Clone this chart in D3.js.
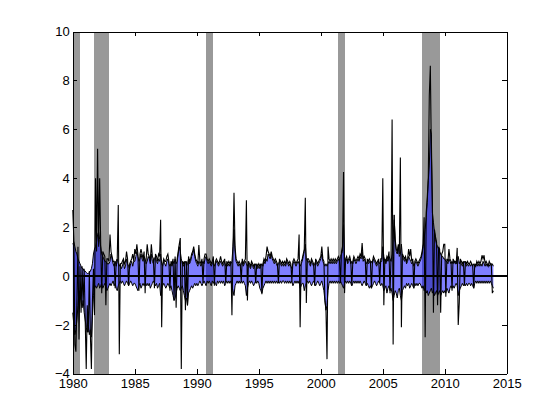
<!DOCTYPE html>
<html>
<head>
<meta charset="utf-8">
<script src="https://cdn.jsdelivr.net/npm/d3@7"></script>
<style>
body { margin: 0; background: #fff; }
svg text { font-family: "Liberation Sans", Arial, sans-serif; font-size: 13px; fill: #000; }
</style>
</head>
<body>
<div id="chart"></div>
<script>
// monthly values, Jan 1980 .. Dec 2013
var startYear = 1980;

// upper edge of the blue band
var upper = [
  1.3, 1.4, 1.2, 1.0, 0.9, 0.7, 0.6, 0.5, 0.4, 0.3, 0.3, 0.2,
  0.2, 0.15, 0.1, 0.1, 0.15, 0.2, 0.3, 0.5, 0.9, 1.1, 1.2, 1.4,
  1.7, 1.8, 1.5, 1.2, 0.9, 0.8, 0.7, 0.6, 0.6, 0.5, 0.5, 0.5,
  0.6, 0.9, 0.7, 0.5, 0.4, 0.6, 0.4, 0.7, 0.5, 0.4, 0.5, 0.3,
  0.4, 0.6, 0.3, 0.4, 0.7, 0.5, 0.4, 0.3, 0.5, 0.6, 0.4, 0.6,
  0.6, 0.8, 1.0, 0.8, 0.6, 0.7, 0.9, 0.7, 0.6, 0.8, 0.7, 0.5,
  0.6, 0.8, 0.7, 0.5, 0.9, 0.6, 0.5, 0.7, 0.8, 0.6, 0.5, 0.7,
  0.6, 0.9, 0.5, 0.4, 0.6, 0.5, 0.4, 0.6, 0.7, 0.5, 0.4, 0.5,
  0.4, 0.6, 0.5, 0.7, 0.5, 0.6, 0.9, 1.2, 1.0, 0.7, 0.5, 0.4,
  0.5, 0.6, 0.4, 0.5, 0.7, 0.5, 0.6, 0.8, 0.9, 1.1, 0.8, 0.6,
  0.5, 0.4, 0.6, 0.5, 0.4, 0.5, 0.6, 0.5, 0.7, 0.8, 0.6, 0.5,
  0.6, 0.5, 0.4, 0.5, 0.6, 0.4, 0.5, 0.6, 0.5, 0.4, 0.5, 0.6,
  0.5, 0.4, 0.5, 0.6, 0.4, 0.5, 0.4, 0.5, 0.4, 0.5, 0.6, 1.2,
  1.9, 1.0, 0.6, 0.5, 0.4, 0.5, 0.4, 0.5, 0.6, 0.4, 0.5, 0.6,
  0.5, 0.4, 0.5, 0.4, 0.3, 0.5, 0.4, 0.3, 0.4, 0.5, 0.4, 0.3,
  0.4, 0.3, 0.4, 0.5, 0.4, 0.6, 0.5, 0.7, 0.6, 0.9, 0.8, 0.7,
  0.9, 0.7, 0.6, 0.5, 0.6, 0.5, 0.4, 0.5, 0.6, 0.5, 0.4, 0.5,
  0.4, 0.5, 0.4, 0.6, 0.5, 0.4, 0.5, 0.4, 0.3, 0.5, 0.6, 0.5,
  0.4, 0.5, 0.6, 0.5, 0.4, 0.5, 0.6, 0.8, 1.0, 1.3, 0.7, 0.6,
  0.6, 0.5, 0.4, 0.6, 0.5, 0.4, 0.5, 0.6, 0.5, 0.4, 0.5, 0.6,
  0.7, 0.9, 0.6, 0.5, 0.4, 0.5, 0.4, 0.5, 0.6, 0.5, 0.6, 0.5,
  0.6, 0.5, 0.6, 0.5, 0.6, 0.7, 0.6, 0.8, 0.9, 1.0, 2.1, 0.7,
  0.6, 0.7, 0.5, 0.6, 0.7, 0.5, 0.6, 0.5, 0.7, 0.6, 0.5, 0.6,
  0.7, 0.6, 0.8, 0.7, 1.0, 0.6, 0.7, 0.6, 0.5, 0.6, 0.5, 0.6,
  0.5, 0.6, 0.5, 0.7, 0.6, 0.5, 0.4, 0.5, 0.6, 0.5, 0.6, 0.6,
  1.2, 0.8, 0.6, 0.5, 0.7, 0.6, 0.8, 0.7, 0.6, 0.9, 1.5, 2.5,
  1.4, 1.0, 0.9, 1.2, 0.8, 0.9, 1.3, 0.8, 0.7, 0.6, 0.7, 0.5,
  0.6, 0.8, 0.7, 0.6, 0.5, 0.6, 0.4, 0.5, 0.6, 0.5, 0.4, 0.5,
  0.6, 0.7, 0.9, 1.2, 1.5, 1.9, 2.4, 3.0, 3.9, 4.5, 6.0, 5.8,
  2.6, 2.2, 1.8, 1.5, 1.3, 1.2, 1.1, 1.0, 0.9, 0.8, 0.8, 0.7,
  0.7, 0.6, 0.6, 0.5, 0.7, 0.6, 0.5, 0.6, 0.5, 0.6, 0.5, 0.5,
  0.6, 0.8, 0.5, 0.6, 0.5, 0.4, 0.5, 0.6, 0.5, 0.4, 0.5, 0.4,
  0.5, 0.4, 0.5, 0.4, 0.5, 0.4, 0.4, 0.5, 0.4, 0.5, 0.4, 0.5,
  0.4, 0.6, 0.5, 0.4, 0.5, 0.4, 0.5, 0.4, 0.5, 0.4, 0.5, 0.4
];

// lower edge of the blue band
var lower = [
  -1.5, -2.0, -2.4, -2.2, -1.8, -1.2, -0.6, -0.8, -1.0, -1.3, -1.0, -1.5,
  -1.8, -2.1, -2.3, -2.0, -2.4, -2.2, -2.5, -1.6, -0.8, -0.5, -0.4, -0.5,
  -0.4, -0.3, -0.5, -0.4, -0.3, -0.5, -0.4, -0.3, -0.4, -0.6, -0.5, -0.4,
  -0.3, -0.4, -0.3, -0.2, -0.4, -0.3, -0.5, -0.6, -0.4, -0.3, -0.2, -0.3,
  -0.2, -0.3, -0.4, -0.3, -0.2, -0.3, -0.4, -0.3, -0.2, -0.3, -0.4, -0.3,
  -0.3, -0.4, -0.5, -0.6, -0.4, -0.3, -0.5, -0.4, -0.3, -0.4, -0.3, -0.4,
  -0.3, -0.4, -0.3, -0.5, -0.4, -0.3, -0.2, -0.3, -0.4, -0.3, -0.5, -0.4,
  -0.3, -0.8, -0.5, -0.4, -0.3, -0.4, -0.5, -0.4, -0.3, -0.4, -0.5, -0.4,
  -0.6, -0.8, -1.0, -0.9, -0.7, -0.5, -0.4, -0.5, -0.6, -0.5, -0.4, -0.6,
  -0.8, -1.0, -0.9, -1.2, -0.7, -0.6, -0.5, -0.4, -0.5, -0.4, -0.3, -0.4,
  -0.3, -0.4, -0.3, -0.2, -0.3, -0.4, -0.3, -0.2, -0.3, -0.4, -0.2, -0.3,
  -0.2, -0.3, -0.4, -0.2, -0.3, -0.2, -0.3, -0.4, -0.2, -0.3, -0.2, -0.3,
  -0.2, -0.3, -0.2, -0.4, -0.3, -0.2, -0.3, -0.2, -0.3, -0.2, -0.4, -0.6,
  -0.8, -0.4, -0.3, -0.2, -0.3, -0.2, -0.3, -0.2, -0.3, -0.2, -0.3, -0.4,
  -0.8, -0.5, -0.3, -0.2, -0.3, -0.2, -0.3, -0.4, -0.3, -0.2, -0.3, -0.2,
  -0.3, -0.5, -0.6, -0.7, -0.5, -0.4, -0.3, -0.2, -0.3, -0.2, -0.3, -0.2,
  -0.3, -0.2, -0.3, -0.2, -0.3, -0.2, -0.3, -0.2, -0.3, -0.2, -0.3, -0.2,
  -0.2, -0.3, -0.2, -0.3, -0.2, -0.3, -0.2, -0.3, -0.2, -0.4, -0.3, -0.2,
  -0.3, -0.2, -0.3, -0.2, -0.5, -0.4, -0.3, -0.3, -0.6, -0.4, -0.3, -0.2,
  -0.3, -0.2, -0.3, -0.4, -0.3, -0.2, -0.3, -0.4, -0.3, -0.2, -0.3, -0.4,
  -0.3, -0.2, -0.4, -0.6, -1.0, -1.4, -1.2, -0.6, -0.3, -0.2, -0.3, -0.2,
  -0.3, -0.2, -0.3, -0.2, -0.3, -0.2, -0.3, -0.2, -0.3, -0.4, -0.5, -0.3,
  -0.2, -0.3, -0.2, -0.3, -0.2, -0.3, -0.4, -0.3, -0.2, -0.3, -0.2, -0.3,
  -0.2, -0.3, -0.2, -0.3, -0.4, -0.3, -0.2, -0.3, -0.4, -0.3, -0.4, -0.5,
  -0.4, -0.5, -0.4, -0.3, -0.2, -0.3, -0.4, -0.3, -0.2, -0.3, -0.4, -0.3,
  -0.4, -0.6, -0.5, -0.4, -0.7, -0.5, -0.4, -0.6, -0.5, -0.7, -1.0, -0.8,
  -0.6, -0.7, -0.9, -0.6, -0.5, -0.8, -1.0, -0.6, -0.5, -0.4, -0.5, -0.3,
  -0.4, -0.3, -0.5, -0.4, -0.3, -0.4, -0.5, -0.3, -0.4, -0.3, -0.4, -0.3,
  -0.3, -0.4, -0.5, -0.4, -0.6, -0.5, -0.7, -0.6, -0.8, -0.7, -0.6, -0.5,
  -0.7, -0.6, -0.8, -0.7, -0.6, -0.8, -0.7, -0.6, -0.8, -0.7, -0.6, -0.7,
  -0.6, -0.7, -0.5, -0.6, -0.7, -0.5, -0.4, -0.5, -0.4, -0.5, -0.4, -0.3,
  -0.4, -0.8, -0.6, -0.5, -0.4, -0.3, -0.4, -0.3, -0.4, -0.3, -0.4, -0.3,
  -0.3, -0.4, -0.3, -0.4, -0.5, -0.3, -0.2, -0.3, -0.2, -0.3, -0.2, -0.3,
  -0.2, -0.3, -0.2, -0.3, -0.2, -0.3, -0.2, -0.3, -0.2, -0.3, -0.4, -0.5
];

// black line
var series = [
  2.7, 1.5, -2.8, -3.1, -1.0, 1.2, -2.6, 0.4, -1.5, 0.4, -1.2, 0.3,
  -1.8, -3.8, -1.2, -2.3, 0.2, -2.4, -3.8, -1.0, 0.3, -1.6, 4.0, 1.0,
  5.2, 1.2, 4.0, 1.3, -0.7, 1.0, 0.9, 0.8, -1.2, 0.7, 0.7, 0.6,
  1.7, 1.0, 0.8, 0.6, 0.6, -0.5, 0.6, 0.7, 2.9, -3.2, 0.5, 0.5,
  0.6, 0.7, 0.5, 0.6, 1.0, 0.7, -0.4, 0.5, 0.6, 0.7, 0.9, 0.6,
  1.1, 0.9, 1.3, 0.9, -0.6, 0.9, 1.1, 0.9, 0.7, 1.0, -0.7, 0.7,
  1.3, 0.9, 0.8, 0.6, 1.3, 0.8, 0.7, -0.5, 0.9, 0.8, 0.6, 0.9,
  0.8, 2.3, -2.1, 0.5, 0.7, 0.6, 0.6, 0.8, 0.9, 0.6, -0.6, 0.6,
  0.5, 0.7, -1.0, 0.8, -1.3, 0.7, 1.0, 1.3, 1.55, -3.8, 0.6, 0.5,
  0.6, -1.4, 0.6, -1.2, 0.8, 0.6, 0.7, 0.9, 1.0, 1.2, 0.9, 0.7,
  0.6, 0.5, 1.27, 0.6, 0.5, 0.7, -0.3, 0.7, 0.9, 0.9, 0.7, 0.6,
  0.7, 0.6, 0.5, 0.6, 0.8, -0.4, 0.6, 0.7, 0.6, 0.5, 0.6, 0.8,
  0.6, 0.5, 0.6, 0.7, -0.3, 0.6, 0.5, 0.6, 0.5, 0.6, -1.6, 1.0,
  3.4, 1.2, 0.7, 0.6, 0.5, 0.6, 0.5, -0.2, 0.7, 0.5, 0.6, 0.7,
  3.1, -1.0, 0.6, 0.5, 0.4, 0.6, 0.5, 0.4, 0.5, -0.3, 0.5, 0.4,
  0.5, 0.4, 0.5, -0.75, 0.5, 0.7, 0.6, 0.8, 1.2, 1.0, 0.9, 0.8,
  1.0, 0.8, 0.7, 0.6, 0.7, 0.6, 0.5, -0.3, 0.7, 0.6, 0.5, 0.6,
  0.5, 0.6, 0.5, 0.7, 0.6, 0.5, 0.6, 0.5, -0.2, 0.6, 0.7, 0.6,
  0.5, 0.6, 0.7, 1.7, -2.1, 0.6, 0.7, 0.9, 1.1, 3.2, -1.1, 0.7,
  0.7, 0.6, 0.5, 0.7, 0.6, 0.5, -0.4, 0.7, 0.6, 0.5, 0.6, 0.7,
  0.8, 1.2, 0.7, 0.6, -1.0, -1.4, -3.4, 1.2, 0.7, 0.6, 0.7, 0.6,
  0.7, 0.6, 0.7, 0.6, 0.7, 0.8, 0.7, -0.3, 1.0, 1.2, 4.25, -0.7,
  0.7, 0.8, 0.6, 0.7, 0.8, 0.6, -0.4, 0.6, 0.8, 0.7, 0.6, 0.7,
  0.8, 0.7, 0.9, 0.8, 1.35, 0.7, 0.8, 0.7, -0.4, 0.7, 0.6, 0.7,
  0.6, -0.5, 0.6, 0.8, 0.7, 0.6, 0.5, 0.6, 0.7, -0.3, 0.7, 0.7,
  4.0, -1.2, 0.7, 0.6, 0.8, 0.7, 1.0, -0.7, 0.8, 6.4, -2.8, 2.3,
  1.5, 1.1, 1.0, 1.3, 0.9, 4.85, -2.1, 0.9, 0.8, 0.7, 0.8, 0.6,
  0.7, 1.1, 0.8, 1.1, 0.6, 0.7, -0.5, 0.6, 0.7, 0.6, 0.5, 0.6,
  0.7, 0.8, 1.0, 1.3, 2.4, -2.5, 2.6, 3.2, 4.0, 7.4, 8.6, 5.0,
  3.0, -1.5, 1.9, 1.6, 1.4, -1.2, 1.2, 1.1, -1.5, 0.9, 1.0, 1.3,
  1.3, -0.85, 0.7, 0.6, 1.1, 0.7, 0.6, -0.6, 0.7, 0.6, 0.6, 0.5,
  1.15, -2.0, -1.1, 0.7, 0.6, 0.5, 0.6, -0.4, 0.6, 0.5, 0.6, 0.5,
  0.5, 0.6, 0.5, 0.4, -0.5, 0.5, 0.4, 0.6, 0.5, 0.6, 0.5, 0.6,
  0.85, 0.7, 0.85, 0.5, 0.6, 0.5, 0.4, 0.6, 0.5, 0.5, -0.7, -0.6
];

// shaded periods (start, end) in years
var bandStart = [1980.0, 1981.71, 1990.74, 2001.39, 2008.16];
var bandEnd   = [1980.58, 1982.9, 1991.31, 2001.95, 2009.6];

var xTicks = [1980, 1985, 1990, 1995, 2000, 2005, 2010, 2015];
var yTicks = [-4, -2, 0, 2, 4, 6, 8, 10];

var width = 560;
var height = 420;
var margin = { left: 72.8, top: 31.5, right: 53.2, bottom: 46.2 };
var w = width - margin.left - margin.right;
var h = height - margin.top - margin.bottom;

var data = series.map(function(d, i) {
  return { t: startYear + i / 12, s: d, up: upper[i], lo: lower[i] };
});

var x = d3.scaleLinear().domain([1980, 2015]).range([0, w]);
var y = d3.scaleLinear().domain([-4, 10]).range([h, 0]);

var svg = d3.select('#chart')
  .append('svg')
  .attr('width', width)
  .attr('height', height)
  .append('g')
  .attr('transform', 'translate(' + margin.left + ',' + margin.top + ')');

svg.append('rect')
  .attr('width', w).attr('height', h)
  .attr('fill', '#fff');

// grey bars
svg.selectAll('.band')
  .data(bandStart)
  .enter()
  .append('rect')
  .attr('x', function(d) { return x(d); })
  .attr('y', 0)
  .attr('width', function(d, i) { return x(bandEnd[i]) - x(d); })
  .attr('height', h)
  .attr('fill', '#999999')
  .attr('shape-rendering', 'crispEdges');

// blue band
var area = d3.area()
  .x(function(d) { return x(d.t); })
  .y0(function(d) { return y(d.lo); })
  .y1(function(d) { return y(d.up); });

svg.append('path')
  .datum(data)
  .attr('d', area)
  .attr('fill', '#0000ff')
  .attr('fill-opacity', 0.5);

var upLine = d3.line().x(function(d) { return x(d.t); }).y(function(d) { return y(d.up); });
var loLine = d3.line().x(function(d) { return x(d.t); }).y(function(d) { return y(d.lo); });
var sLine = d3.line().x(function(d) { return x(d.t); }).y(function(d) { return y(d.s); });

svg.append('path').datum(data).attr('d', upLine)
  .attr('fill', 'none').attr('stroke', '#000').attr('stroke-width', 1);
svg.append('path').datum(data).attr('d', loLine)
  .attr('fill', 'none').attr('stroke', '#000').attr('stroke-width', 1);

svg.append('path').datum(data).attr('d', sLine)
  .attr('fill', 'none').attr('stroke', '#000').attr('stroke-width', 1.1);

// zero line
svg.append('line')
  .attr('x1', 0).attr('x2', w)
  .attr('y1', y(0)).attr('y2', y(0))
  .attr('stroke', '#000').attr('stroke-width', 2)
  .attr('shape-rendering', 'crispEdges');

// axes, ticks pointing inward on all four sides
var tl = 4.3;
svg.append('g')
  .attr('transform', 'translate(0,' + h + ')')
  .call(d3.axisBottom(x).tickValues(xTicks).tickFormat(d3.format('d'))
    .tickSizeInner(-tl).tickSizeOuter(0).tickPadding(5));
svg.append('g')
  .call(d3.axisTop(x).tickValues(xTicks).tickFormat('')
    .tickSizeInner(-tl).tickSizeOuter(0));
svg.append('g')
  .call(d3.axisLeft(y).tickValues(yTicks)
    .tickSizeInner(-tl).tickSizeOuter(0).tickPadding(3));
svg.append('g')
  .attr('transform', 'translate(' + w + ',0)')
  .call(d3.axisRight(y).tickValues(yTicks).tickFormat('')
    .tickSizeInner(-tl).tickSizeOuter(0));

svg.selectAll('.domain').attr('stroke', '#000').attr('shape-rendering', 'crispEdges');
svg.selectAll('.tick line').attr('stroke', '#000').attr('shape-rendering', 'crispEdges');
svg.selectAll('.tick text').attr('font-size', 13).attr('font-family', '"Liberation Sans", Arial, sans-serif');
</script>
</body>
</html>
